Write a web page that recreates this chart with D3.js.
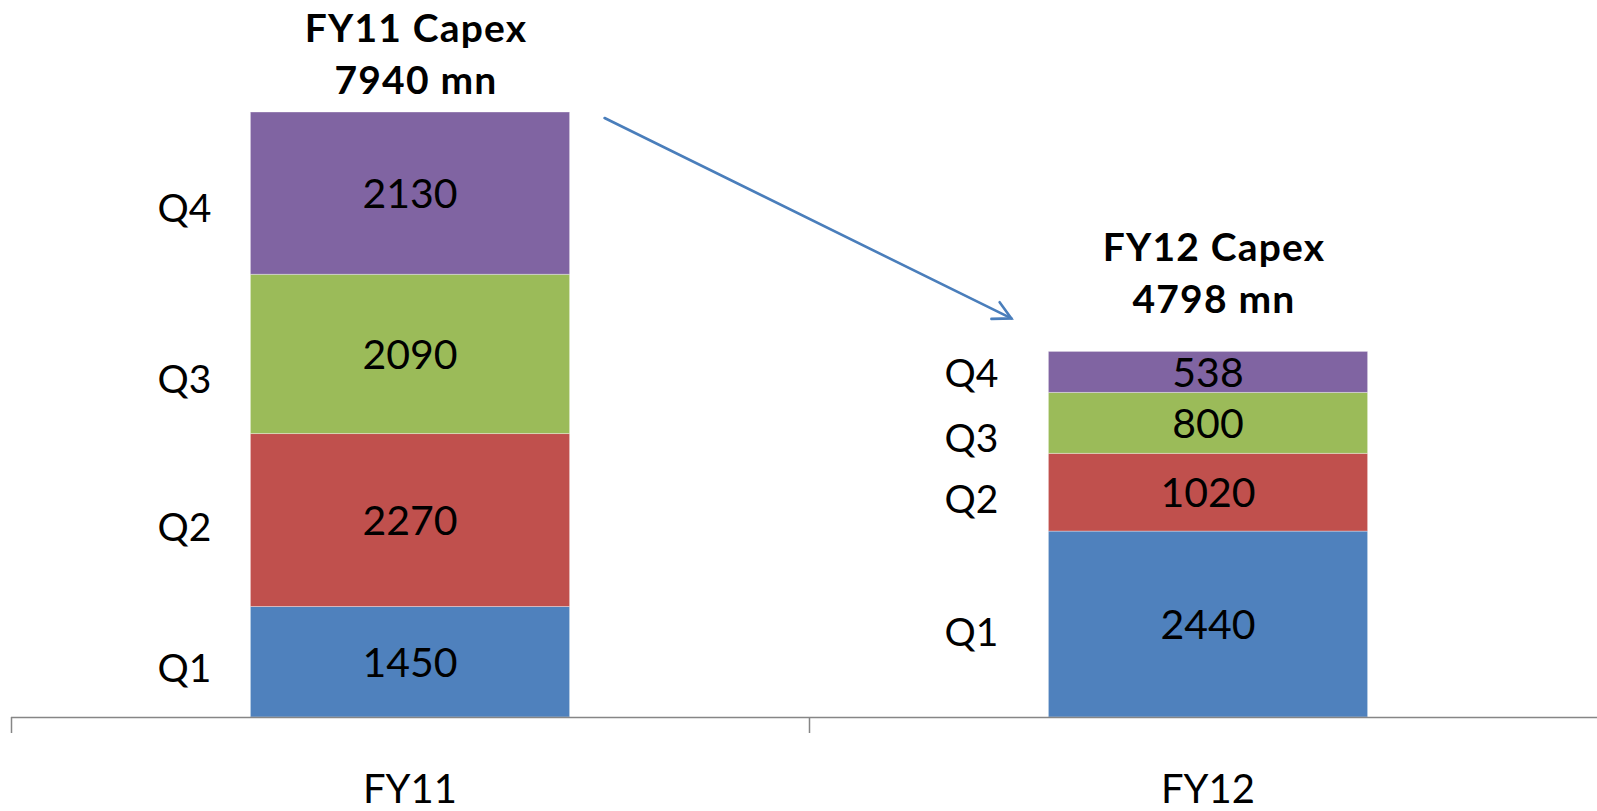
<!DOCTYPE html>
<html>
<head>
<meta charset="utf-8">
<script src="https://cdn.jsdelivr.net/npm/d3@7"></script>
<style>
  html, body { margin: 0; padding: 0; background: #ffffff; }
  svg { display: block; }
  text { font-family: Lato, "Open Sans", sans-serif; fill: #000; }
</style>
</head>
<body>
<svg id="chart" width="1597" height="811"></svg>
<script>
// Quarterly capital expenditure, in millions
const years = ["FY11", "FY12"];
const quarters = ["Q1", "Q2", "Q3", "Q4"];
const fy11 = [1450, 2270, 2090, 2130];
const fy12 = [2440, 1020, 800, 538];
const totals = [7940, 4798];
const titleLines = [["FY11 Capex", "7940 mn"], ["FY12 Capex", "4798 mn"]];
const quarterColors = ["#4F81BD", "#C0504D", "#9BBB59", "#8064A2"];

const W = 1597, H = 811;
const baseY = 717;
const svg = d3.select("#chart");

// Category bands: ticks sit on band edges, bars are centred in each band
const x = d3.scaleBand().domain(years).range([11, 1607]).padding(0);
const barFrac = 0.4;
const barW = x.bandwidth() * barFrac;
const barX = yr => x(yr) + (x.bandwidth() - barW) / 2;

const y = d3.scaleLinear().domain([0, d3.max(totals)]).range([baseY, 112]);

const series = { FY11: fy11, FY12: fy12 };

// Stack the quarters of each year
const stacked = years.map(yr => {
  let acc = 0;
  return series[yr].map((v, i) => {
    const s = { year: yr, q: quarters[i], i, v, y0: acc, y1: acc + v };
    acc += v;
    return s;
  });
});

const gBars = svg.append("g");
stacked.forEach(segs => {
  gBars.selectAll(null).data(segs).enter().append("rect")
    .attr("x", d => barX(d.year))
    .attr("width", barW)
    .attr("y", d => y(d.y1))
    .attr("height", d => y(d.y0) - y(d.y1))
    .attr("fill", d => quarterColors[d.i])
    .attr("stroke", "#ffffff")
    .attr("stroke-opacity", 0.35)
    .attr("stroke-width", 1);

  // value labels in the middle of each segment
  gBars.selectAll(null).data(segs).enter().append("text")
    .attr("x", d => barX(d.year) + barW / 2)
    .attr("y", d => (y(d.y0) + y(d.y1)) / 2)
    .attr("dy", "0.36em")
    .attr("text-anchor", "middle")
    .style("font-size", "41px")
    .text(d => d.v);
});

// Quarter names to the left of each bar
const qShiftX = { FY11: -66, FY12: -77 };
const qShiftY = { FY11: [6, 7, 25, 15], FY12: [8, 7, 15, 1] };
stacked.forEach(segs => {
  gBars.selectAll(null).data(segs).enter().append("text")
    .attr("x", d => barX(d.year) + qShiftX[d.year])
    .attr("y", d => (y(d.y0) + y(d.y1)) / 2 + qShiftY[d.year][d.i])
    .attr("dy", "0.36em")
    .attr("text-anchor", "middle")
    .style("font-size", "39px")
    .text(d => d.q);
});

// Year totals above the bars
const titleGap = [70, 90];
years.forEach((yr, k) => {
  const cx = barX(yr) + barW / 2 + 6;
  const top = y(totals[k]);
  const t = svg.append("text")
    .attr("text-anchor", "middle")
    .style("font-size", "39px")
    .style("font-weight", "bold")
    .style("letter-spacing", "1.2px");
  titleLines[k].forEach((line, j) => {
    t.append("tspan")
      .attr("x", cx)
      .attr("y", top - titleGap[k] + j * 52)
      .text(line);
  });
});

// Category axis
const axis = svg.append("g").attr("stroke", "#868686").attr("stroke-width", 1.5);
axis.append("line")
  .attr("x1", x.range()[0]).attr("x2", W)
  .attr("y1", baseY + 0.5).attr("y2", baseY + 0.5);
axis.selectAll(null).data(years).enter().append("line")
  .attr("x1", d => x(d) + 0.5).attr("x2", d => x(d) + 0.5)
  .attr("y1", baseY).attr("y2", baseY + 16);

svg.selectAll(null).data(years).enter().append("text")
  .attr("x", d => x(d) + x.bandwidth() / 2)
  .attr("y", 803)
  .attr("text-anchor", "middle")
  .style("font-size", "40px")
  .text(d => d);

// Arrow from the FY11 column towards the FY12 column
const ax1 = barX("FY11") + barW + 35, ay1 = y(totals[0]) + 6;
const ax2 = barX("FY12") - 37, ay2 = y(totals[1]) - 33;
const ang = Math.atan2(ay2 - ay1, ax2 - ax1);
const headLen = 20, headAng = Math.PI / 6.5;
const arrow = svg.append("g")
  .attr("stroke", "#4A7EBB").attr("stroke-width", 2.6)
  .attr("fill", "none").attr("stroke-linecap", "round");
arrow.append("line")
  .attr("x1", ax1).attr("y1", ay1).attr("x2", ax2).attr("y2", ay2);
arrow.append("path")
  .attr("d", d3.line()([
    [ax2 - headLen * Math.cos(ang - headAng), ay2 - headLen * Math.sin(ang - headAng)],
    [ax2, ay2],
    [ax2 - headLen * Math.cos(ang + headAng), ay2 - headLen * Math.sin(ang + headAng)]
  ]))
  .attr("stroke-linejoin", "miter");
</script>
</body>
</html>
